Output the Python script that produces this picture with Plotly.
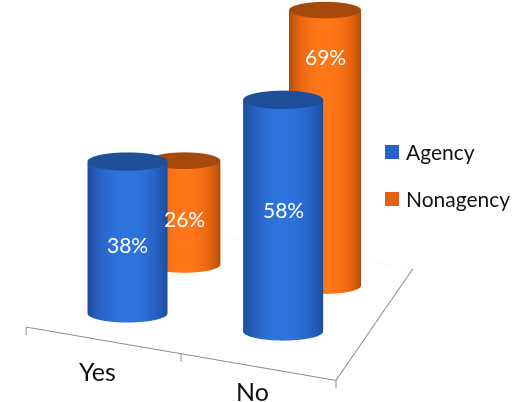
import numpy as np
import plotly.graph_objects as go

categories = ["Yes", "No"]
agency = [38, 58]
nonagency = [26, 69]
series_names = ["Agency", "Nonagency"]

# floor position of each cylinder, per series and category
X_POS = {"Agency": [0.265, 0.75], "Nonagency": [0.332, 0.78]}
Y_POS = {"Agency": [0.25, 0.32], "Nonagency": [0.72, 0.745]}
LABEL_Z = {"Agency": [17.3, 30.6], "Nonagency": [11.5, 57.5]}
RADII = {"Agency": 40 / 201, "Nonagency": 36 / 201}
LEN_X, LEN_Y = 1.63, 1.174
Z_RANGE = [-10, 80]
LEN_Z = 2.064
AZ = np.radians(19)
EL = np.radians(30)
FLATTEN = 0.46
DIST = 3.0

BLUE_SCALE = [[0, "#1c4c98"], [0.55, "#2560c0"], [1, "#2e74de"]]
ORANGE_SCALE = [[0, "#a64a0c"], [0.55, "#e5640f"], [1, "#ff7718"]]
BLUE_CAP = "#1f4f98"
ORANGE_CAP = "#a54a0b"

right = np.array([np.cos(AZ), np.sin(AZ)])
away = np.array([-np.sin(AZ), np.cos(AZ)])


def ring(cx, cy, radius, theta):
    px = radius * (np.cos(theta) * right[0] + FLATTEN * np.sin(theta) * away[0])
    py = radius * (np.cos(theta) * right[1] + FLATTEN * np.sin(theta) * away[1])
    return cx + px / LEN_X, cy + py / LEN_Y


def cylinder(cx, cy, radius, height, colorscale, cap):
    theta = np.linspace(0, 2 * np.pi, 121)
    tt, zz = np.meshgrid(theta, [0, height])
    xs, ys = ring(cx, cy, radius, tt)
    shade = np.abs(np.sin(tt)) ** 1.6
    wall = go.Surface(
        x=xs, y=ys, z=zz, surfacecolor=shade, colorscale=colorscale, cmin=0, cmax=1,
        showscale=False, hoverinfo="skip",
        lighting=dict(ambient=1, diffuse=0, specular=0, fresnel=0, roughness=1),
    )
    tc, rr = np.meshgrid(theta, [0, 1])
    xc, yc = ring(cx, cy, radius * rr, tc)
    top = go.Surface(
        x=xc, y=yc, z=np.full_like(xc, height), surfacecolor=np.zeros_like(xc),
        colorscale=[[0, cap], [1, cap]], showscale=False, hoverinfo="skip",
        lighting=dict(ambient=1, diffuse=0, specular=0, fresnel=0, roughness=1),
    )
    return [wall, top]


fig = go.Figure()
annotations = []
label_font = dict(family="Lato", size=21, color="white")

for name, values, scale, cap in [
    ("Agency", agency, BLUE_SCALE, BLUE_CAP),
    ("Nonagency", nonagency, ORANGE_SCALE, ORANGE_CAP),
]:
    for c, value in enumerate(values):
        fig.add_traces(cylinder(X_POS[name][c], Y_POS[name][c], RADII[name], value, scale, cap))
        annotations.append(dict(
            x=X_POS[name][c], y=Y_POS[name][c], z=LABEL_Z[name][c], text=f"{value}%",
            showarrow=False, font=label_font,
        ))

# floor outline and category ticks
axis_line = dict(color="#8c8c8c", width=2)
fig.add_trace(go.Scatter3d(x=[0, 1, 1], y=[0, 0, 1], z=[0, 0, 0], mode="lines", line=axis_line,
                           showlegend=False, hoverinfo="skip"))
for tx in [0, 0.5, 1]:
    fig.add_trace(go.Scatter3d(x=[tx, tx], y=[0, 0], z=[0, -2], mode="lines", line=axis_line,
                               showlegend=False, hoverinfo="skip"))
fig.add_trace(go.Scatter3d(x=[0, 1], y=[1, 1], z=[0, 0], mode="lines",
                           line=dict(color="#e2e2e2", width=1, dash="dot"),
                           showlegend=False, hoverinfo="skip"))

for c, z_pos, cat in zip([0.23, 0.73], [-8, -6.2], categories):
    annotations.append(dict(
        x=c, y=0, z=z_pos, text=cat, showarrow=False,
        font=dict(family="Lato", size=25, color="#111111"),
    ))

# legend keys beside the scene
shapes = []
legend_annotations = []
for name, color, ypos in zip(series_names, ["#2563c8", "#e2600f"], [152, 199]):
    shapes.append(dict(type="rect", xref="paper", yref="paper", line_width=0, fillcolor=color,
                       x0=385 / 516, x1=399 / 516, y0=1 - (ypos + 7) / 402, y1=1 - (ypos - 7) / 402))
    legend_annotations.append(dict(
        xref="paper", yref="paper", x=404 / 516, y=1 - (ypos - 1) / 402, text=name, showarrow=False,
        xanchor="left", yanchor="middle", font=dict(family="Lato", size=21, color="#111111"),
    ))

direction = np.array([np.cos(EL) * np.sin(AZ), -np.cos(EL) * np.cos(AZ), np.sin(EL)])
center = np.array([0.181, 0.063, -0.246])
eye = center + DIST * direction

hidden = dict(visible=False)
fig.update_layout(
    width=516, height=402, margin=dict(l=0, r=0, t=0, b=0),
    paper_bgcolor="white", font=dict(family="Lato"), showlegend=False,
    shapes=shapes, annotations=legend_annotations,
    scene=dict(
        domain=dict(x=[0, 1], y=[0, 1]),
        xaxis=dict(range=[0, 1], **hidden),
        yaxis=dict(range=[0, 1], **hidden),
        zaxis=dict(range=Z_RANGE, **hidden),
        aspectmode="manual",
        aspectratio=dict(x=LEN_X, y=LEN_Y, z=LEN_Z),
        camera=dict(
            eye=dict(x=eye[0], y=eye[1], z=eye[2]),
            center=dict(x=center[0], y=center[1], z=center[2]),
            up=dict(x=0, y=0, z=1),
            projection=dict(type="orthographic"),
        ),
        annotations=annotations,
    ),
)
fig.write_html("out.html")
